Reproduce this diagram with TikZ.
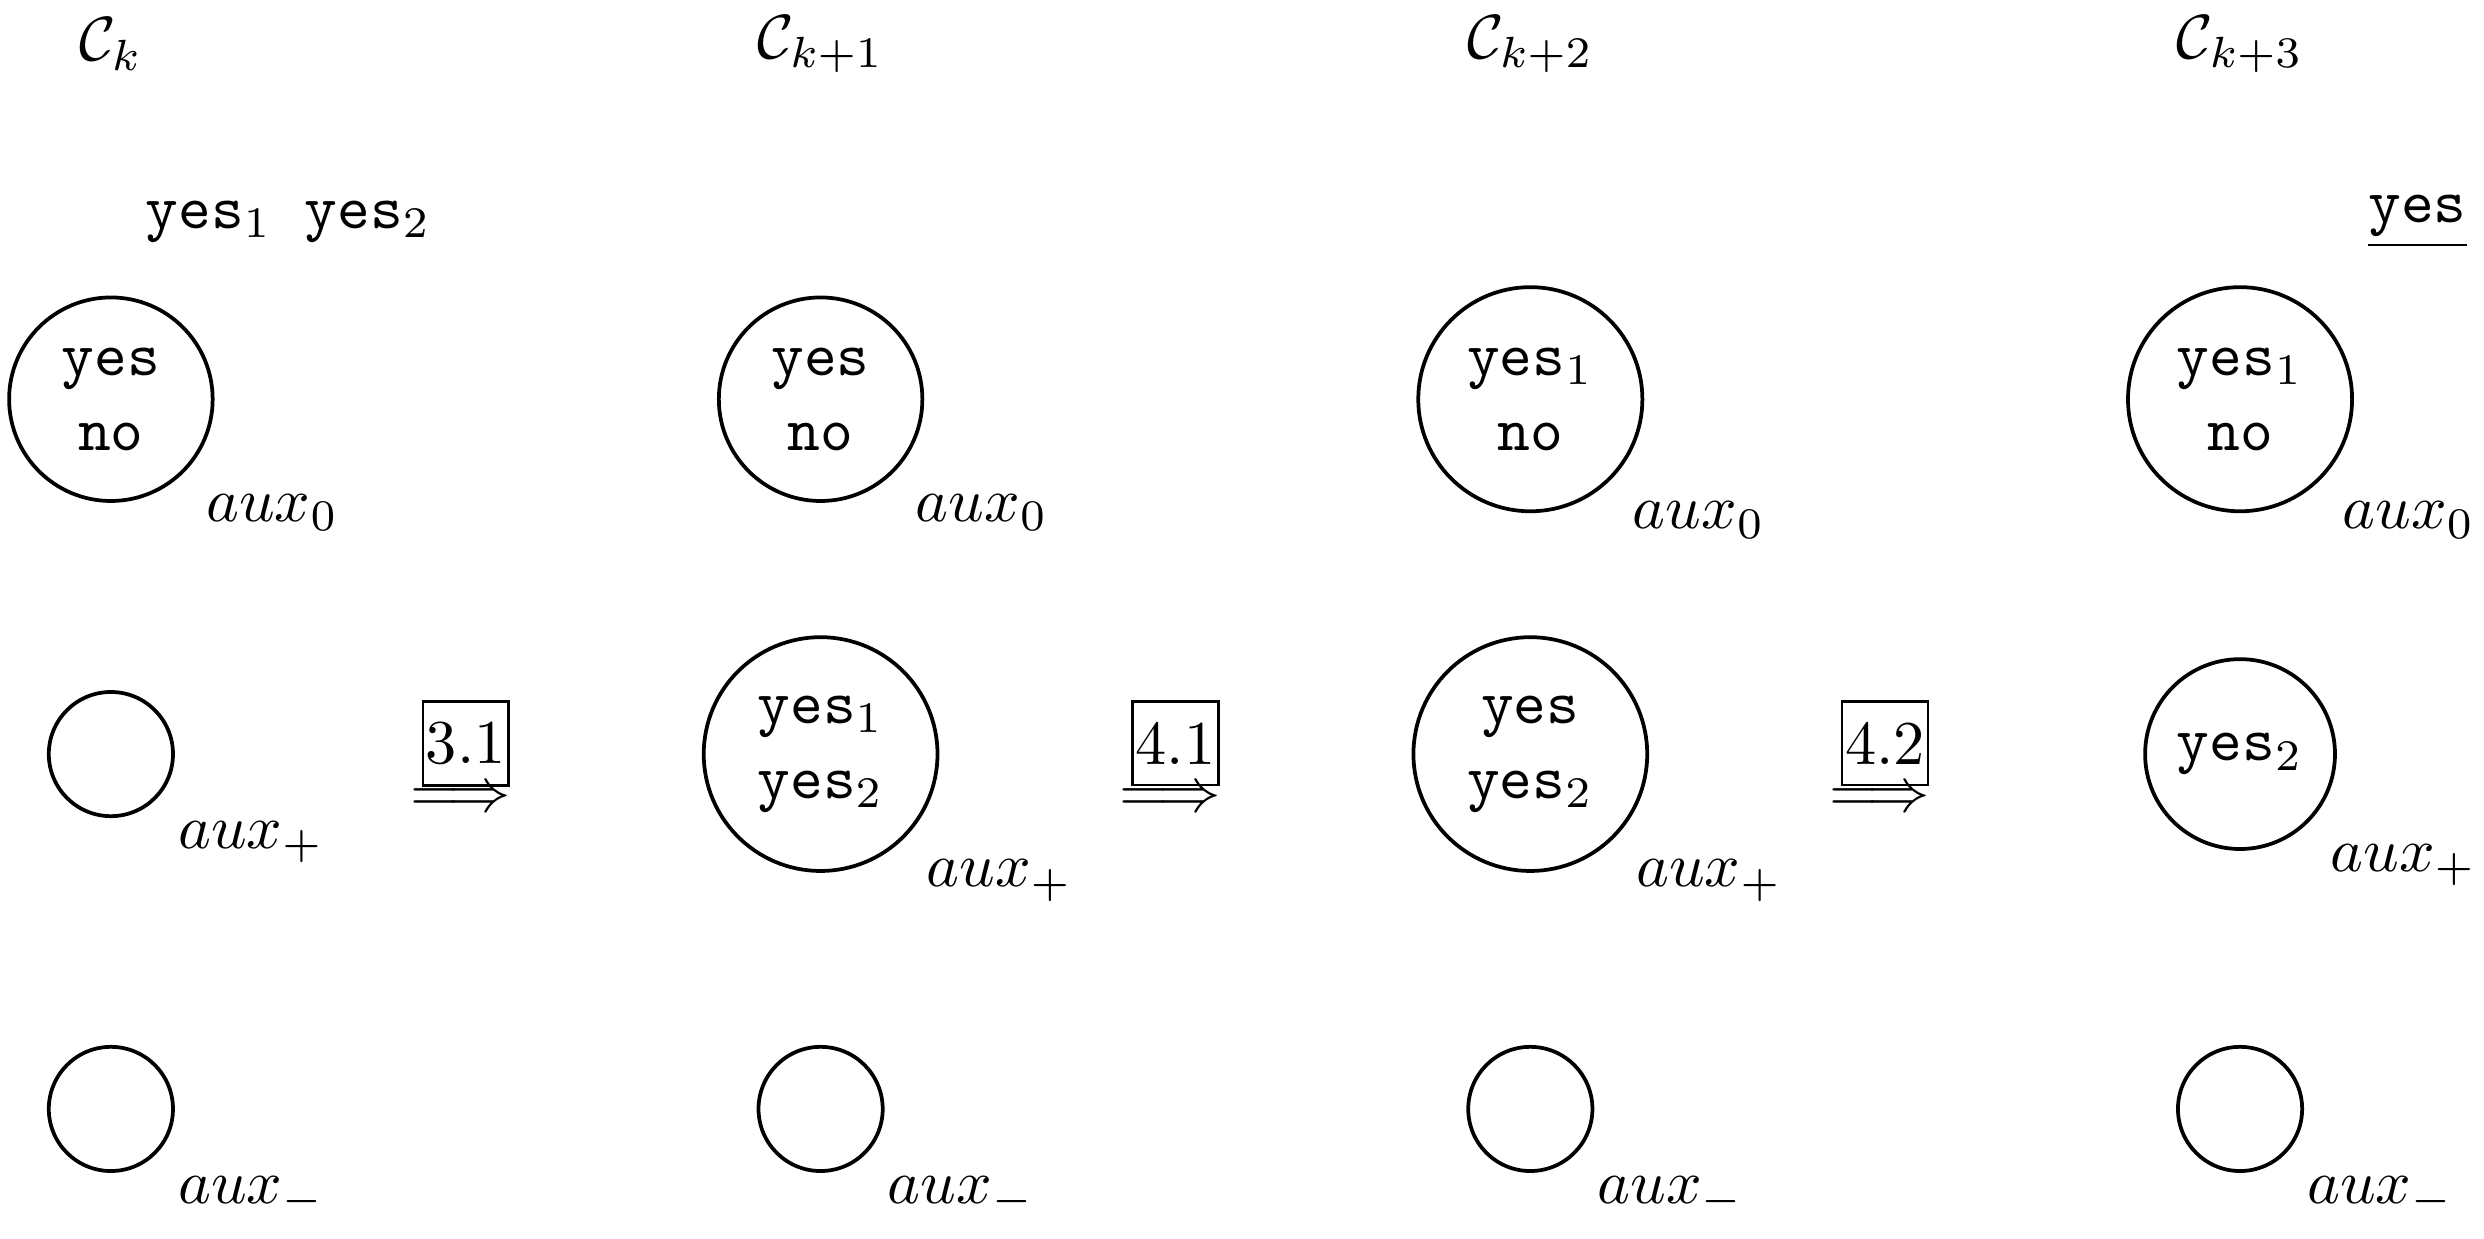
\documentclass[tikz,border=0pt]{standalone}
\usepackage{amsmath,amssymb}
\usetikzlibrary{positioning}

\begin{document}
\begin{tikzpicture}
  \tikzstyle{bag}=[circle, draw, semithick, align=center, inner sep=3.5pt, minimum size=0.7cm]
  \tikzstyle{stepbox}=[draw, inner xsep=0.5pt, inner ysep=3.3pt]
  \useasboundingbox (-0.625,-0.73) rectangle (13.375,6.25);

  \node (C_1) at (0,6)  {$\mathcal{C}_k$};
  \node (C_2) at (4,6)  {$\mathcal{C}_{k+1}$};
  \node (C_3) at (8,6)  {$\mathcal{C}_{k+2}$};
  \node (C_4) at (12,6) {$\mathcal{C}_{k+3}$};

  \node (Q_1) at (1,5)  {\ttfamily yes$_1$ yes$_2$};
  \node (Q_4) at (13,5) {\underline{\texttt{yes}}};

  \node[bag, label=-45:$aux_0$] (Z_1) at (0,4)  {\texttt{yes}\\\texttt{no}};
  \node[bag, label=-45:$aux_+$] (P_1) at (0,2)  {};
  \node[bag, label=-45:$aux_-$] (N_1) at (0,0)  {};

  \node[bag, label=-45:$aux_0$] (Z_2) at (4,4)  {\texttt{yes}\\\texttt{no}};
  \node[bag, label=-45:$aux_+$] (P_2) at (4,2)  {\texttt{yes}$_1$\\\texttt{yes}$_2$};
  \node[bag, label=-45:$aux_-$] (N_2) at (4,0)  {};

  \node[bag, label=-45:$aux_0$] (Z_3) at (8,4)  {\texttt{yes}$_1$\\\texttt{no}};
  \node[bag, label=-45:$aux_+$] (P_3) at (8,2)  {\texttt{yes}\\\texttt{yes}$_2$};
  \node[bag, label=-45:$aux_-$] (N_3) at (8,0)  {};

  \node[bag, label=-45:$aux_0$] (Z_4) at (12,4) {\texttt{yes}$_1$\\\texttt{no}};
  \node[bag, label=-45:$aux_+$] (P_4) at (12,2) {\texttt{yes}$_2$};
  \node[bag, label=-45:$aux_-$] (N_4) at (12,0) {};

  \node (R_1) at (1.97,1.74)  {$\Longrightarrow$};
  \node (R_2) at (5.97,1.74)  {$\Longrightarrow$};
  \node (R_3) at (9.97,1.74) {$\Longrightarrow$};
  \node[stepbox] (S_1) at (2,2.06)  {3.1};
  \node[stepbox] (S_2) at (6,2.06)  {4.1};
  \node[stepbox] (S_3) at (10,2.06) {4.2};
\end{tikzpicture}
\end{document}
